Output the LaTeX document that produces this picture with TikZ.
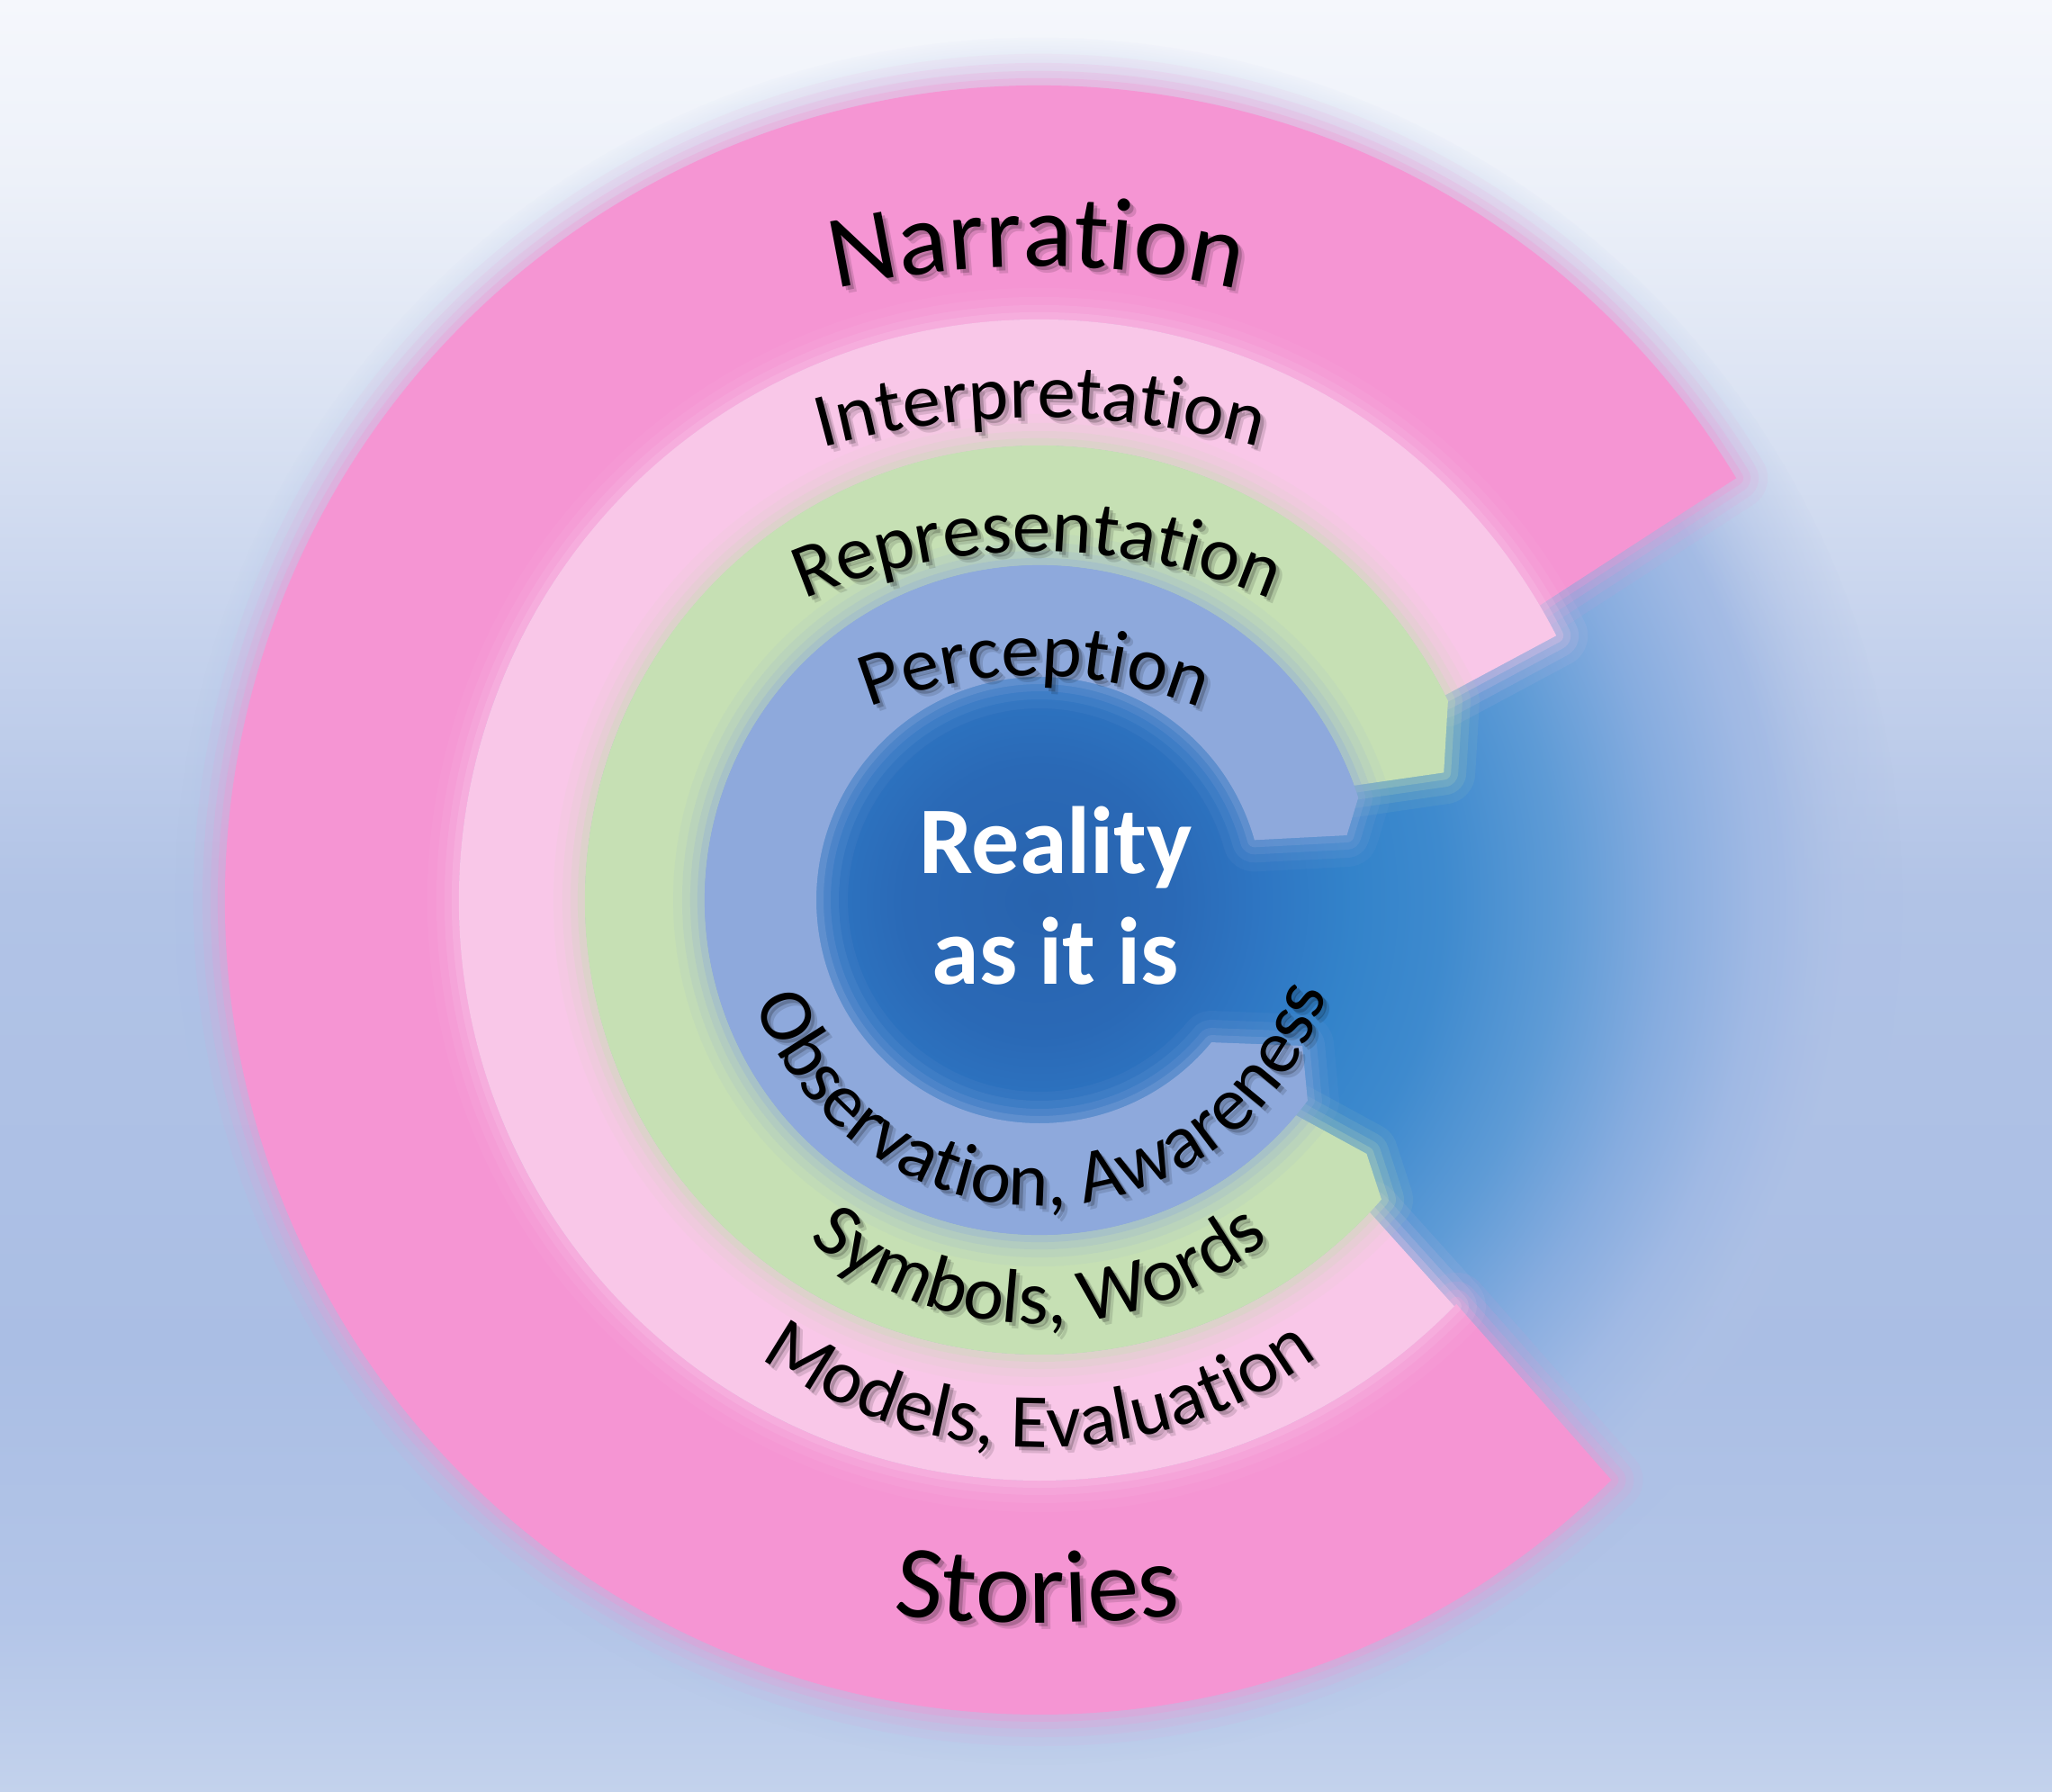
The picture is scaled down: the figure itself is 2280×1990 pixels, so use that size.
\documentclass[tikz,border=0pt]{standalone}
\usepackage{fontspec}
\setmainfont{Carlito}
\usetikzlibrary{decorations.text,fadings}

\definecolor{bg0}{HTML}{F5F7FC}
\definecolor{bg1}{HTML}{EDF1F9}
\definecolor{bg2}{HTML}{DFE6F4}
\definecolor{bg3}{HTML}{C6D3ED}
\definecolor{bg4}{HTML}{B1C3E6}
\definecolor{bg5}{HTML}{AABEE4}
\definecolor{bg6}{HTML}{B3C5E8}
\definecolor{bg7}{HTML}{C3D2EC}

\definecolor{bl0}{HTML}{2863AE}
\definecolor{bl1}{HTML}{2A69B6}
\definecolor{bl2}{HTML}{2E76C3}
\definecolor{bl3}{HTML}{3383CA}
\definecolor{bl4}{HTML}{3E8ACE}
\definecolor{bl5}{HTML}{5E9BD6}
\definecolor{bl6}{HTML}{86ACDF}
\definecolor{bl7}{HTML}{A0B9E4}
\definecolor{bl8}{HTML}{AEC1E6}

\definecolor{pinkA}{HTML}{F595D3}
\definecolor{pinkB}{HTML}{F9C7E8}
\definecolor{greenC}{HTML}{C6E0B4}
\definecolor{lavD}{HTML}{8EA9DC}

\pgfdeclareverticalshading{bgshade}{100bp}{color(0bp)=(bg7); color(25bp)=(bg7); color(29.8bp)=(bg6); color(37.3bp)=(bg5); color(49.9bp)=(bg4); color(57.4bp)=(bg3); color(65bp)=(bg2); color(70bp)=(bg1); color(75bp)=(bg0); color(100bp)=(bg0)}
\pgfdeclareradialshading{bluedisc}{\pgfpoint{0bp}{0bp}}{color(0bp)=(bl0); color(3.9bp)=(bl1); color(6.5bp)=(bl2); color(9.1bp)=(bl3); color(11.7bp)=(bl4); color(15.1bp)=(bl5); color(18.2bp)=(bl6); color(20.8bp)=(bl7); color(23.4bp)=(bl8); color(50bp)=(bl8)}

\newcommand\bigf{\fontsize{32.7pt}{39pt}\selectfont}
\newcommand\smallf{\fontsize{24.2pt}{29pt}\selectfont}
\newcommand\realf{\bfseries\fontsize{30.2pt}{36pt}\selectfont}

\newcommand\pinkpath[1]{\path[#1] (31.2:905) arc[start angle=31.2, end angle=314.6, radius=905] -- (315.9:645) arc[start angle=315.9, end angle=30.5, radius=645] -- cycle;}
\newcommand\lpinkpath[1]{\path[#1] (27.1:645) arc[start angle=27.1, end angle=315.6, radius=645] -- (316.6:505) arc[start angle=316.6, end angle=26.8, radius=505] -- cycle;}
\newcommand\greenpath[1]{\path[#1] (26:505) arc[start angle=26, end angle=318.8, radius=505] -- (322.2:460) -- (320:372) arc[start angle=320, end angle=20, radius=372] -- (17.5:471) -- cycle;}
\newcommand\lavpath[1]{\path[#1] (17.8:372) arc[start angle=17.8, end angle=323.2, radius=372] -- (331:334) -- (320.4:248) arc[start angle=320.4, end angle=15.6, radius=248] -- (11.9:349) -- cycle;}

\newcommand\softring[2]{%
  #2{draw=#1, line width=0.7cm, opacity=0.08, line join=round}
  #2{draw=#1, line width=0.5cm, opacity=0.12, line join=round}
  #2{draw=#1, line width=0.32cm, opacity=0.18, line join=round}
  #2{draw=#1, line width=0.16cm, opacity=0.28, line join=round}
  #2{fill=#1}
}

\newcommand\arctext[7]{%
  \begin{scope}[opacity=0.12]
    \path[shift={(#1+7,#2-7)}, decorate, decoration={text along path, text align=center, text color=black, text={|#6|#7}}] (#4:#3) arc[start angle=#4, end angle=#5, radius=#3];
  \end{scope}
  \begin{scope}[opacity=0.2]
    \path[shift={(#1+4,#2-4)}, decorate, decoration={text along path, text align=center, text color=black, text={|#6|#7}}] (#4:#3) arc[start angle=#4, end angle=#5, radius=#3];
  \end{scope}
  \path[shift={(#1,#2)}, decorate, decoration={text along path, text align=center, text color=black, text={|#6|#7}}] (#4:#3) arc[start angle=#4, end angle=#5, radius=#3];
}

\begin{document}
\begin{tikzpicture}[x=0.01cm, y=0.01cm]
\useasboundingbox (-1155,-990) rectangle (1125,1000);
\shade[shading=bgshade] (-1155,-990) rectangle (1125,1000);

% big blue disc
\shade[shading=bluedisc, path fading=circle with fuzzy edge 15 percent] (0,0) circle[radius=960];

% rings
\softring{pinkA}{\pinkpath}
\softring{pinkB}{\lpinkpath}
\softring{greenC}{\greenpath}
\softring{lavD}{\lavpath}

% curved labels
\arctext{-3}{-296}{1000}{115}{65}{\bigf}{Narration}
\arctext{1}{-364}{900}{115}{65}{\smallf}{Interpretation}
\arctext{-2}{-273}{660}{125}{55}{\smallf}{Representation}
\arctext{-5}{-251}{500}{130}{50}{\smallf}{Perception}
\arctext{0}{-6}{334}{190}{352}{\smallf}{Observation, Awareness}
\arctext{0}{-76}{395}{220}{320}{\smallf}{Symbols, Words}
\arctext{0}{-79}{529}{225}{315}{\smallf}{Models, Evaluation}
\arctext{-3}{597}{1400}{255}{285}{\bigf}{Stories}

% centre text
\node[font=\realf, text=white, anchor=base, inner sep=0pt] (real1) at (18,30) {Reality};
\node[font=\realf, text=white, anchor=base, inner sep=0pt] (real2) at (18,-93) {as it is};
\end{tikzpicture}
\end{document}
